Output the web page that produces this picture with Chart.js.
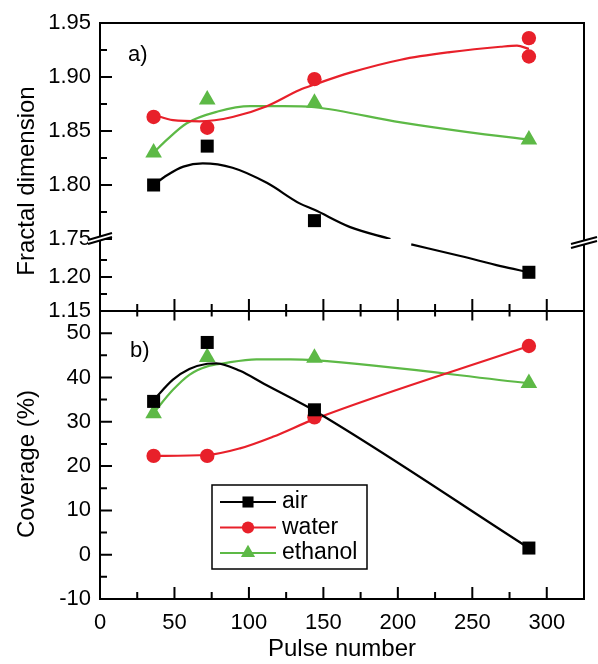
<!DOCTYPE html>
<html lang="en">
<head>
<meta charset="UTF-8">
<title>Fractal dimension and coverage vs pulse number</title>
<style>
  html, body { margin: 0; padding: 0; background: #fff; }
  #wrap { width: 598px; height: 664px; }
</style>
<script src="https://cdn.jsdelivr.net/npm/chart.js"></script>
</head>
<body>
<div id="wrap"><canvas id="chart" width="598" height="664"></canvas></div>
<script>
// pulse numbers of the measurements
const pulses = [36, 72, 144, 288];

// a) fractal dimension
const fdAir = [1.800, 1.836, 1.767, 1.207];
const fdWaterX = [36, 72, 144, 288, 288];
const fdWater = [1.863, 1.853, 1.898, 1.936, 1.919];
const fdEthanol = [1.830, 1.879, 1.876, 1.842];

// b) coverage (%)
const covAir = [34.6, 47.9, 32.7, 1.5];
const covWater = [22.3, 22.3, 31.0, 47.1];
const covEthanol = [31.9, 44.6, 44.4, 38.7];

// smoothed guide curves (null = hidden by the axis break)
const fdAirFitX = [36, 45, 56, 69, 89, 112, 134, 144, 168, 195, 202, 209, 242, 269, 288];
const fdAirFitY = [1.800, 1.809, 1.817, 1.820, 1.816, 1.802, 1.783, 1.777, 1.761, 1.750, null, 1.248, 1.231, 1.216, 1.207];
const fdWaterFitX = [36, 49, 67, 89, 112, 134, 144, 168, 202, 235, 269, 280, 288];
const fdWaterFitY = [1.865, 1.860, 1.859, 1.863, 1.873, 1.888, 1.893, 1.904, 1.916, 1.923, 1.928, 1.929, 1.926];
const fdEthFitX = [36, 45, 58, 79, 101, 123, 144, 202, 247, 288];
const fdEthFitY = [1.830, 1.842, 1.857, 1.868, 1.873, 1.873, 1.872, 1.858, 1.849, 1.842];

const covAirFitX = [36, 49, 60, 72, 78, 94, 110, 128, 144, 288];
const covAirFitY = [34.9, 39.5, 41.9, 43.1, 43.2, 41.5, 38.6, 35.4, 32.5, 1.5];
const covWaterFitX = [36, 72, 94, 116, 144, 288];
const covWaterFitY = [22.3, 22.5, 24.0, 26.6, 30.6, 47.1];
const covEthFitX = [36, 49, 60, 72, 83, 105, 128, 144, 288];
const covEthFitY = [32.0, 37.2, 40.6, 42.5, 43.2, 44.1, 44.1, 43.9, 38.7];

// axis ticks
const xTicks = [0, 50, 100, 150, 200, 250, 300];
const xMinor = [25, 75, 125, 175, 225, 275];
const fdTicks = [1.75, 1.80, 1.85, 1.90, 1.95];
const fdMinor = [1.775, 1.825, 1.875, 1.925];
const fdLoTicks = [1.15, 1.20];
const fdLoMinor = [1.175, 1.225];
const covTicks = [-10, 0, 10, 20, 30, 40, 50];
const covMinor = [-5, 5, 15, 25, 35, 45];

const series = ['air', 'water', 'ethanol'];
const colors = ['#000000', '#e8202a', '#5db946'];
const shapes = ['rect', 'circle', 'triangle'];
const radii = [9.2, 7.2, 9.6];

const FONT = '"Liberation Sans", Arial, sans-serif';

function pts(xs, ys) {
  return xs.map((x, i) => ({ x: x, y: ys[i] }));
}

function curve(xs, ys, k, axis) {
  return {
    data: pts(xs, ys), yAxisID: axis, borderColor: colors[k], borderWidth: 2.2,
    pointRadius: 0, cubicInterpolationMode: 'monotone', fill: false, spanGaps: false, order: 2
  };
}

function marks(xs, ys, k, axis) {
  return {
    data: pts(xs, ys), yAxisID: axis, showLine: false, pointStyle: shapes[k],
    pointRadius: radii[k], pointHoverRadius: radii[k], pointBorderWidth: 0,
    backgroundColor: colors[k], borderColor: colors[k], order: 1
  };
}

const datasets = [
  curve(fdAirFitX, fdAirFitY, 0, 'yFrac'),
  curve(fdAirFitX, fdAirFitY, 0, 'yFracLo'),
  curve(fdWaterFitX, fdWaterFitY, 1, 'yFrac'),
  curve(fdEthFitX, fdEthFitY, 2, 'yFrac'),
  curve(covAirFitX, covAirFitY, 0, 'yCov'),
  curve(covWaterFitX, covWaterFitY, 1, 'yCov'),
  curve(covEthFitX, covEthFitY, 2, 'yCov'),
  marks(pulses, fdAir, 0, 'yFrac'),
  marks(pulses, fdAir, 0, 'yFracLo'),
  marks(fdWaterX, fdWater, 1, 'yFrac'),
  marks(pulses, fdEthanol, 2, 'yFrac'),
  marks(pulses, covAir, 0, 'yCov'),
  marks(pulses, covWater, 1, 'yCov'),
  marks(pulses, covEthanol, 2, 'yCov')
];

function yAxis(min, max, weight, tickList, digits) {
  return {
    type: 'linear', position: 'left', stack: 'left', stackWeight: weight,
    min: min, max: max,
    grid: { display: false, drawTicks: false },
    border: { display: false },
    afterBuildTicks: s => { s.ticks = tickList.map(v => ({ value: v })); },
    afterFit: s => { s.width = 100; },
    ticks: {
      color: '#000', padding: 9, autoSkip: false, font: { family: FONT, size: 22 },
      callback: v => Number(v).toFixed(digits)
    }
  };
}

function drawMarker(ctx, shape, r, x, y) {
  ctx.beginPath();
  if (shape === 'rect') {
    const s = r * Math.SQRT1_2;
    ctx.rect(x - s, y - s, 2 * s, 2 * s);
  } else if (shape === 'circle') {
    ctx.arc(x, y, r, 0, Math.PI * 2);
  } else {
    ctx.moveTo(x, y - r);
    ctx.lineTo(x + r * Math.sin(Math.PI * 2 / 3), y + r * 0.5);
    ctx.lineTo(x - r * Math.sin(Math.PI * 2 / 3), y + r * 0.5);
    ctx.closePath();
  }
  ctx.fill();
}

const decor = {
  id: 'decor',
  // keep each dataset inside its own stacked y axis
  beforeDatasetDraw(chart, args) {
    const ys = args.meta.yScale, a = chart.chartArea, ctx = chart.ctx;
    ctx.save();
    ctx.beginPath();
    ctx.rect(a.left, ys.top, a.right - a.left, ys.bottom - ys.top);
    ctx.clip();
  },
  afterDatasetDraw(chart) {
    chart.ctx.restore();
  },
  afterDraw(chart) {
    const ctx = chart.ctx, a = chart.chartArea, sc = chart.scales;
    const x = sc.x, yF = sc.yFrac, yL = sc.yFracLo, yC = sc.yCov;
    const mid = yC.top;
    ctx.save();
    ctx.strokeStyle = '#000';
    ctx.lineWidth = 2;
    ctx.lineCap = 'butt';

    // frame and panel divider
    ctx.strokeRect(a.left, a.top, a.right - a.left, a.bottom - a.top);
    ctx.beginPath();
    ctx.moveTo(a.left, mid);
    ctx.lineTo(a.right, mid);
    ctx.stroke();

    // tick marks, pointing into the panels
    ctx.beginPath();
    const xt = (list, len) => list.forEach(v => {
      const px = x.getPixelForValue(v);
      ctx.moveTo(px, a.bottom); ctx.lineTo(px, a.bottom - len);
      ctx.moveTo(px, mid - len); ctx.lineTo(px, mid + len * 0.8);
    });
    xt(xTicks.filter(v => v > 0), 12);
    xt(xMinor, 7);
    const yt = (s, list, len) => list.forEach(v => {
      const py = s.getPixelForValue(v);
      ctx.moveTo(a.left, py); ctx.lineTo(a.left + len, py);
    });
    yt(yF, fdTicks, 12); yt(yF, fdMinor, 7);
    yt(yL, fdLoTicks.filter(v => v > 1.15), 12); yt(yL, fdLoMinor, 7);
    yt(yC, covTicks, 12); yt(yC, covMinor, 7);
    ctx.stroke();

    // axis break marks
    const brk = (cx, cy, hw) => {
      ctx.fillStyle = '#fff';
      ctx.beginPath();
      ctx.moveTo(cx - hw, cy + 2); ctx.lineTo(cx + hw, cy - 5);
      ctx.lineTo(cx + hw, cy - 1); ctx.lineTo(cx - hw, cy + 6);
      ctx.closePath(); ctx.fill();
      ctx.beginPath();
      ctx.moveTo(cx - hw, cy + 2); ctx.lineTo(cx + hw, cy - 5);
      ctx.moveTo(cx - hw, cy + 6); ctx.lineTo(cx + hw, cy - 1);
      ctx.stroke();
    };
    brk(a.left, yF.bottom - 1, 12);
    brk(a.right, yF.bottom + 3, 13);

    // axis titles and panel labels
    ctx.fillStyle = '#000';
    ctx.textBaseline = 'middle';
    ctx.textAlign = 'center';
    ctx.font = '24px ' + FONT;
    const vtitle = (text, cx, cy) => {
      ctx.save(); ctx.translate(cx, cy); ctx.rotate(-Math.PI / 2);
      ctx.fillText(text, 0, 0); ctx.restore();
    };
    vtitle('Fractal dimension', 27, 181);
    vtitle('Coverage (%)', 27, 464);
    ctx.textAlign = 'left';
    ctx.font = '22px ' + FONT;
    ctx.fillText('a)', a.left + 28, a.top + 32);
    ctx.fillText('b)', a.left + 30, mid + 40);

    // legend
    const lx = 212, ly = 485, lw = 155, lh = 84;
    ctx.lineWidth = 1.5;
    ctx.strokeRect(lx, ly, lw, lh);
    ctx.font = '23px ' + FONT;
    series.forEach((name, k) => {
      const ry = ly + 17 + k * 25.5;
      ctx.strokeStyle = colors[k];
      ctx.fillStyle = colors[k];
      ctx.lineWidth = 2;
      ctx.beginPath(); ctx.moveTo(lx + 8, ry); ctx.lineTo(lx + 64, ry); ctx.stroke();
      drawMarker(ctx, shapes[k], radii[k] * 0.85, lx + 36, ry);
      ctx.fillStyle = '#000';
      ctx.fillText(name, lx + 70, ry);
    });
    ctx.restore();
  }
};

new Chart(document.getElementById('chart'), {
  type: 'line',
  data: { datasets: datasets },
  options: {
    responsive: false,
    animation: false,
    events: [],
    layout: { padding: { top: 23, right: 14, left: 0, bottom: 0 } },
    plugins: { legend: { display: false }, tooltip: { enabled: false } },
    scales: {
      x: {
        type: 'linear', position: 'bottom', min: 0, max: 325,
        grid: { display: false, drawTicks: false },
        border: { display: false },
        afterBuildTicks: s => { s.ticks = xTicks.map(v => ({ value: v })); },
        afterFit: s => { s.height = 65; },
        ticks: { color: '#000', padding: 11, maxRotation: 0, autoSkip: false, font: { family: FONT, size: 22 } },
        title: { display: true, text: 'Pulse number', color: '#000', padding: { top: 0, bottom: 0 }, font: { family: FONT, size: 24 } }
      },
      yCov: yAxis(-10, 55, 4, covTicks, 0),
      yFracLo: yAxis(1.15, 1.256, 1, fdLoTicks, 2),
      yFrac: yAxis(1.75, 1.95, 3, fdTicks, 2)
    }
  },
  plugins: [decor]
});
</script>
</body>
</html>
